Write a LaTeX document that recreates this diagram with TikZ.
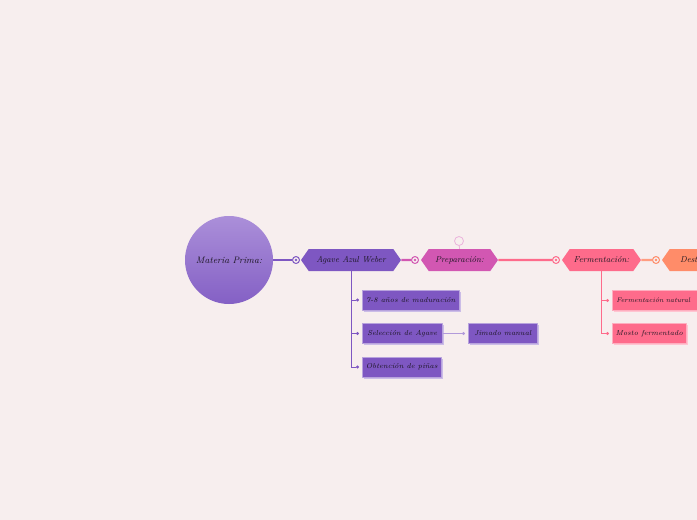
\documentclass[tikz,border=0pt]{standalone}
\usetikzlibrary{shapes.symbols,arrows.meta,shadows}

\definecolor{bgpink}{HTML}{F7EEEE}
\definecolor{agave}{HTML}{7E57C2}
\definecolor{prep}{HTML}{D257B2}
\definecolor{ferm}{HTML}{FE6B8B}
\definecolor{dest}{HTML}{FF8C69}
\definecolor{circtop}{HTML}{AB8FD9}
\definecolor{circbot}{HTML}{8460C5}
\definecolor{inkdark}{HTML}{1A1520}

\tikzset{
  topic/.style={signal, signal to=west and east, signal pointer angle=110,
    minimum height=22, inner sep=0, font=\fontsize{8.6}{10}\selectfont\itshape, text=inkdark},
  leaf/.style={rectangle, minimum height=20, inner sep=0, anchor=west,
    font=\fontsize{7.2}{8.5}\selectfont\itshape, text=inkdark,
    drop shadow={shadow xshift=1.8pt, shadow yshift=-1.8pt, fill=#1!40!white, opacity=1},
    fill=#1, draw=#1!55!white, line width=0.5},
  knob/.style={circle, draw=#1, line width=1, fill=bgpink, minimum size=7, inner sep=0,
    path picture={\fill[#1] (path picture bounding box.center) circle[radius=1.3];}},
  link/.style={draw=#1, line width=2.4},
  twig/.style={draw=#1, line width=0.8, -{Circle[length=3pt]}, shorten >=3pt},
}

\begin{document}
\begin{tikzpicture}[x=1pt,y=-1pt,line join=round]
  % Frame of the artwork, with the page background.
  \useasboundingbox (0,0) rectangle (697,520);
  \fill[bgpink] (0,0) rectangle (697,520);
  \clip (0,0) rectangle (697,520);

  % Central idea.
  \node[circle, minimum size=88, inner sep=0, top color=circtop, bottom color=circbot,
        font=\fontsize{9.4}{11}\selectfont\itshape, text=inkdark] (materia) at (229,260) {Materia Prima:};

  % Main chain of topics, left to right.
  \node[topic, fill=agave, minimum width=100] (agave) at (351,260) {Agave Azul Weber};
  \node[topic, fill=prep, minimum width=77] (prep) at (459.5,260) {Preparación:};
  \node[topic, fill=ferm, minimum width=79] (ferm) at (601.5,260) {Fermentación:};
  \node[topic, fill=dest, minimum width=82] (dest) at (703,260) {Destilación:};

  % Small rings in front of each topic.
  \node[knob=agave] (k1) at (296,260) {};
  \node[knob=prep] (k2) at (415,260) {};
  \node[knob=ferm] (k3) at (556,260) {};
  \node[knob=dest] (k4) at (656,260) {};

  \draw[link=agave] (materia) -- (k1);
  \draw[link=prep] (agave) -- (k2);
  \draw[link=ferm] (prep) -- (k3);
  \draw[link=dest!85!white] (ferm) -- (k4);

  % Marker above the second topic.
  \node[circle, draw=prep!45!white, line width=0.8, minimum size=9, inner sep=0] (mark) at (459,241) {};
  \draw[draw=prep!45!white, line width=0.8] (mark) -- (prep.north);

  % Sub topics of the agave.
  \node[leaf=agave, minimum width=97] (anos) at (362,300) {7-8 años de maduración};
  \node[leaf=agave, minimum width=80] (selec) at (362,333.5) {Selección de Agave};
  \node[leaf=agave, minimum width=79] (pinas) at (362,367) {Obtención de piñas};
  \node[leaf=agave, minimum width=69] (jimado) at (468,333.5) {Jimado manual};

  \draw[draw=agave, line width=0.8] (agave.south) -- (agave.south |- pinas.west);
  \draw[twig=agave] (agave.south |- anos.west) -- (anos.west);
  \draw[twig=agave] (agave.south |- selec.west) -- (selec.west);
  \draw[twig=agave] (agave.south |- pinas.west) -- (pinas.west);
  \draw[twig=agave!60!white] (selec.east) -- (jimado.west);

  % Sub topics of the fermentation.
  \node[leaf=ferm, minimum width=92, align=left, text width=84,
        font=\fontsize{6.7}{8}\selectfont\itshape] (natural) at (612,300.5) {Fermentación natural};
  \node[leaf=ferm, minimum width=74] (mosto) at (612,333.5) {Mosto fermentado};

  \draw[draw=ferm, line width=0.8] (ferm.south) -- (ferm.south |- mosto.west);
  \draw[twig=ferm] (ferm.south |- natural.west) -- (natural.west);
  \draw[twig=ferm] (ferm.south |- mosto.west) -- (mosto.west);
\end{tikzpicture}
\end{document}
